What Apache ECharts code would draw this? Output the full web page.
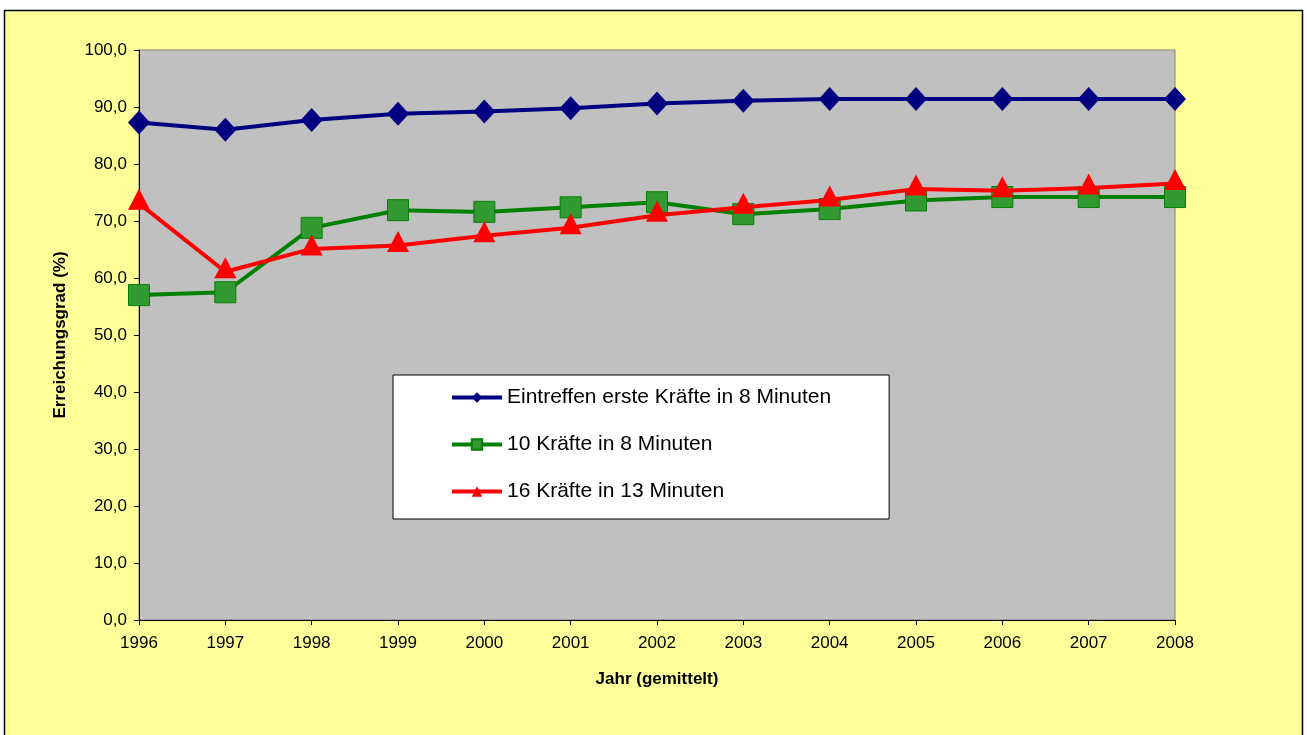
<!DOCTYPE html>
<html><head><meta charset="utf-8">
<script src="https://cdn.jsdelivr.net/npm/echarts@6/dist/echarts.min.js"></script>
<style>html,body{margin:0;padding:0;background:#fff}#c{width:1307px;height:735px}</style>
</head><body><div id="c"></div>
<script>
const years = ['1996','1997','1998','1999','2000','2001','2002','2003','2004','2005','2006','2007','2008'];
const ersteKraefte = [87.3, 86.0, 87.7, 88.8, 89.2, 89.8, 90.6, 91.1, 91.4, 91.4, 91.4, 91.4, 91.4];
const zehnKraefte = [57.0, 57.5, 68.8, 71.9, 71.6, 72.4, 73.3, 71.2, 72.1, 73.6, 74.2, 74.2, 74.2];
const sechzehnKraefte = [73.1, 61.1, 65.1, 65.7, 67.4, 68.8, 71.0, 72.4, 73.7, 75.6, 75.3, 75.8, 76.6];
const seriesNames = ['Eintreffen erste Kräfte in 8 Minuten', '10 Kräfte in 8 Minuten', '16 Kräfte in 13 Minuten'];

const chart = echarts.init(document.getElementById('c'));
const font = 'Liberation Sans, Arial, sans-serif';
chart.setOption({
  animation: false,
  backgroundColor: '#fff',
  textStyle: {fontFamily: font},
  graphic: [{
    type: 'rect', z: -10, silent: true,
    shape: {x: 4.5, y: 10.5, width: 1298, height: 740},
    style: {fill: '#FFFF99', stroke: '#000', lineWidth: 1.5}
  }],
  grid: {left: 139, right: 132, top: 50, bottom: 115, show: true, backgroundColor: '#C0C0C0', borderColor: '#808080', borderWidth: 1},
  legend: {
    orient: 'vertical', left: 393, top: 375,
    backgroundColor: '#fff', borderColor: '#000', borderWidth: 1,
    padding: [12, 58, 17, 57],
    itemWidth: 50, itemHeight: 13, itemGap: 26,
    lineStyle: {width: 4},
    textStyle: {fontSize: 21, color: '#000', fontFamily: font},
    data: seriesNames
  },
  xAxis: {
    type: 'category', data: years, boundaryGap: false,
    name: 'Jahr (gemittelt)', nameLocation: 'middle', nameGap: 51,
    nameTextStyle: {fontSize: 17, fontWeight: 'bold', color: '#000'},
    axisLine: {lineStyle: {color: '#000', width: 1}},
    axisTick: {show: true, length: 5, lineStyle: {color: '#000'}, alignWithLabel: true},
    axisLabel: {fontSize: 17, color: '#000', margin: 15},
    splitLine: {show: false}
  },
  yAxis: {
    type: 'value', min: 0, max: 100, interval: 10,
    name: 'Erreichungsgrad (%)', nameLocation: 'middle', nameGap: 70,
    nameTextStyle: {fontSize: 17, fontWeight: 'bold', color: '#000'},
    axisLine: {show: true, lineStyle: {color: '#000', width: 1}},
    axisTick: {show: true, length: 5, lineStyle: {color: '#000'}},
    axisLabel: {fontSize: 17, color: '#000', margin: 12, formatter: v => v.toFixed(1).replace('.', ',')},
    splitLine: {show: false}
  },
  series: [
    {name: seriesNames[0], type: 'line', data: ersteKraefte, symbol: 'diamond', symbolSize: [22, 24],
      lineStyle: {color: '#000080', width: 4}, itemStyle: {color: '#000080'}, z: 3},
    {name: seriesNames[1], type: 'line', data: zehnKraefte, symbol: 'rect', symbolSize: 21,
      lineStyle: {color: '#008000', width: 4}, itemStyle: {color: '#339933', borderColor: '#008000', borderWidth: 1}, z: 4},
    {name: seriesNames[2], type: 'line', data: sechzehnKraefte, symbol: 'triangle', symbolSize: [22, 21], symbolOffset: [0, -4],
      lineStyle: {color: '#FF0000', width: 4}, itemStyle: {color: '#FF0000'}, z: 5}
  ]
});
</script></body></html>
